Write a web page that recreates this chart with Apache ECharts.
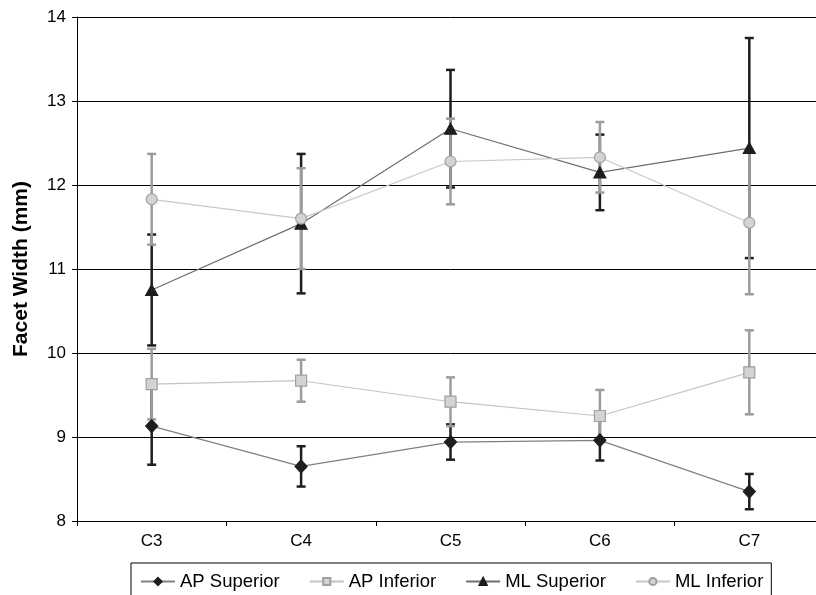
<!DOCTYPE html>
<html>
<head>
<meta charset="utf-8">
<script src="https://cdn.jsdelivr.net/npm/echarts@6/dist/echarts.min.js"></script>
<style>
  html, body { margin: 0; padding: 0; background: #fff; overflow: hidden; }
  /* plot area runs past the right edge of the picture, so the chart is a bit wider than the window */
  #chart { width: 830px; height: 595px; }
</style>
</head>
<body>
<div id="chart"></div>
<script>
const categories = ['C3', 'C4', 'C5', 'C6', 'C7']
const yTicks = [8, 9, 10, 11, 12, 13, 14]

const apSupMean = [9.13, 8.65, 8.94, 8.96, 8.35]
const apSupErr = [0.46, 0.24, 0.21, 0.24, 0.21]
const apInfMean = [9.63, 9.67, 9.42, 9.25, 9.77]
const apInfErr = [0.42, 0.25, 0.29, 0.31, 0.50]
const mlSupMean = [10.75, 11.54, 12.67, 12.15, 12.44]
const mlSupErr = [0.66, 0.83, 0.70, 0.45, 1.31]
const mlInfMean = [11.83, 11.60, 12.28, 12.33, 11.55]
const mlInfErr = [0.54, 0.60, 0.51, 0.42, 0.85]

const FONT = '"Liberation Sans", Arial, sans-serif'

// error bar series: data is [index, low, high]
const errorSeries = (mean, err, color) => ({
  type: 'custom',
  silent: true,
  data: mean.map((m, i) => [i, m - err[i], m + err[i]]),
  renderItem: (params, api) => {
    const lo = api.coord([api.value(0), api.value(1)])
    const hi = api.coord([api.value(0), api.value(2)])
    const half = 4.5
    const style = { stroke: color, lineWidth: 2.5 }
    return {
      type: 'group',
      children: [
        { type: 'line', shape: { x1: lo[0], y1: lo[1], x2: hi[0], y2: hi[1] }, style },
        { type: 'line', shape: { x1: lo[0] - half, y1: lo[1], x2: lo[0] + half, y2: lo[1] }, style },
        { type: 'line', shape: { x1: hi[0] - half, y1: hi[1], x2: hi[0] + half, y2: hi[1] }, style }
      ]
    }
  }
})

const lineSeries = (name, mean, symbol, size, fill, border, lineColor) => ({
  name,
  type: 'line',
  data: mean,
  symbol,
  symbolSize: size,
  showAllSymbol: true,
  itemStyle: { color: fill, borderColor: border, borderWidth: 1.2 },
  lineStyle: { color: lineColor, width: 1.2 },
  emphasis: { disabled: true }
})

const chart = echarts.init(document.getElementById('chart'))
chart.setOption({
  animation: false,
  grid: { left: 77, top: 17, width: 747, bottom: 74 },
  legend: {
    data: ['AP Superior', 'AP Inferior', 'ML Superior', 'ML Inferior'],
    left: 131,
    top: 563,
    padding: [9, 8, 12, 9],
    borderColor: '#000',
    borderWidth: 1,
    itemWidth: 34,
    itemHeight: 9,
    itemGap: 29,
    textStyle: { fontFamily: FONT, fontSize: 18.5, color: '#000' }
  },
  xAxis: {
    type: 'category',
    data: categories,
    boundaryGap: true,
    axisLine: { lineStyle: { color: '#000', width: 1 } },
    axisTick: { show: true, length: 5, lineStyle: { color: '#000' } },
    axisLabel: { margin: 12, fontFamily: FONT, fontSize: 17, color: '#000' }
  },
  yAxis: {
    type: 'value',
    min: yTicks[0],
    max: yTicks[yTicks.length - 1],
    interval: 1,
    name: 'Facet Width (mm)',
    nameLocation: 'middle',
    nameGap: 45,
    nameTextStyle: { fontFamily: FONT, fontSize: 21, fontWeight: 'bold', color: '#000' },
    axisLine: { show: true, lineStyle: { color: '#000', width: 1 } },
    axisTick: { show: true, length: 5, lineStyle: { color: '#000' } },
    axisLabel: { margin: 11, fontFamily: FONT, fontSize: 17, color: '#000' },
    splitLine: { show: true, lineStyle: { color: '#000', width: 1 } }
  },
  series: [
    errorSeries(apSupMean, apSupErr, '#1e1e1e'),
    lineSeries('AP Superior', apSupMean, 'diamond', [12, 13], '#1e1e1e', '#1e1e1e', '#808080'),
    errorSeries(apInfMean, apInfErr, '#9c9c9c'),
    lineSeries('AP Inferior', apInfMean, 'rect', 11, '#d3d3d3', '#a0a0a0', '#c4c4c4'),
    errorSeries(mlSupMean, mlSupErr, '#1e1e1e'),
    lineSeries('ML Superior', mlSupMean, 'triangle', [12, 11], '#1e1e1e', '#1e1e1e', '#6e6e6e'),
    errorSeries(mlInfMean, mlInfErr, '#9c9c9c'),
    lineSeries('ML Inferior', mlInfMean, 'circle', 11, '#d3d3d3', '#a0a0a0', '#c8c8c8')
  ]
})
</script>
</body>
</html>
